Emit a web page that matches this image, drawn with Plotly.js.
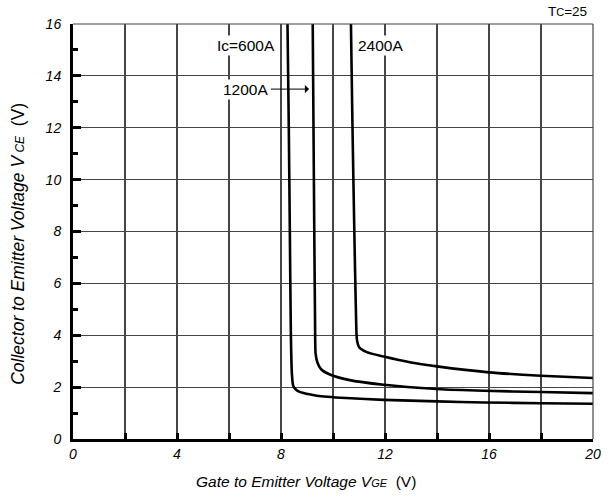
<!DOCTYPE html>
<html>
<head>
<meta charset="utf-8">
<script src="https://cdn.plot.ly/plotly-3.0.1.min.js"></script>
<style>body{margin:0;padding:0;background:#fff}#chart{width:612px;height:500px}</style>
</head>
<body>
<div id="chart"></div>
<script>
// Series: Collector-emitter voltage vs gate-emitter voltage, Tc=25
const vge600 = [8.25, 8.30, 8.34, 8.38, 8.42, 8.47, 8.60, 8.87, 9.38, 10.5, 11.95, 14.0, 15.8, 18.0, 20];
const vce600 = [16, 12, 8, 4, 2.5, 2.05, 1.88, 1.77, 1.67, 1.58, 1.51, 1.45, 1.41, 1.38, 1.36];
const vge1200 = [9.22, 9.25, 9.28, 9.31, 9.33, 9.40, 9.55, 9.90, 10.6, 11.95, 14.0, 15.8, 18.0, 20];
const vce1200 = [16, 12, 8, 4.5, 3.3, 2.95, 2.68, 2.48, 2.28, 2.09, 1.93, 1.86, 1.81, 1.77];
const vge2400 = [10.69, 10.75, 10.82, 10.88, 10.92, 11.0, 11.3, 11.95, 13.0, 14.0, 16.0, 18.0, 20];
const vce2400 = [16, 12, 8, 5, 3.83, 3.55, 3.35, 3.18, 2.95, 2.80, 2.57, 2.44, 2.35];

const xTickVals = [0, 2, 4, 6, 8, 10, 12, 14, 16, 18, 20];
const xTickText = ['0', '', '4', '', '8', '', '12', '', '16', '', '20'];
const yTickVals = [0, 2, 4, 6, 8, 10, 12, 14, 16];
const yTickText = ['0', '2', '4', '6', '8', '10', '12', '14', '16'];

const font = 'Liberation Sans, Arial, sans-serif';
const lineStyle = {color: '#000', width: 2.6, shape: 'spline', smoothing: 0.6};
const gridColor = '#454545';

const traces = [
  {x: vge600, y: vce600, mode: 'lines', line: lineStyle, name: 'Ic=600A', hoverinfo: 'skip'},
  {x: vge1200, y: vce1200, mode: 'lines', line: lineStyle, name: '1200A', hoverinfo: 'skip'},
  {x: vge2400, y: vce2400, mode: 'lines', line: lineStyle, name: '2400A', hoverinfo: 'skip'}
];

const layout = {
  width: 612, height: 500,
  margin: {l: 73, r: 19, t: 24, b: 61},
  paper_bgcolor: '#fff', plot_bgcolor: '#fff',
  showlegend: false,
  font: {family: font, color: '#000', size: 14},
  xaxis: {
    range: [0, 20], tickvals: xTickVals, ticktext: xTickText,
    showgrid: true, gridcolor: gridColor, gridwidth: 1.2,
    showline: true, linecolor: '#000', linewidth: 3,
    ticks: 'inside', ticklen: 6, tickwidth: 3, tickcolor: '#000',
    tickfont: {family: font, size: 14, style: 'italic'},
    zeroline: false, fixedrange: true
  },
  yaxis: {
    range: [0, 16], tickvals: yTickVals, ticktext: yTickText,
    showgrid: true, gridcolor: gridColor, gridwidth: 1.2,
    showline: true, linecolor: '#000', linewidth: 3,
    ticks: 'inside', ticklen: 8, tickwidth: 3, tickcolor: '#000',
    minor: {dtick: 1, ticks: 'inside', ticklen: 5, tickwidth: 3, tickcolor: '#000', showgrid: false},
    tickfont: {family: font, size: 14, style: 'italic'},
    ticklabelstandoff: 6,
    zeroline: false, fixedrange: true
  },
  shapes: [
    {type: 'line', xref: 'paper', yref: 'paper', x0: 0, x1: 1, y0: 1, y1: 1, line: {color: gridColor, width: 1.2}},
    {type: 'line', xref: 'paper', yref: 'paper', x0: 1, x1: 1, y0: 0, y1: 1, line: {color: gridColor, width: 1.2}}
  ],
  annotations: [
    {x: 6.67, y: 15.19, xref: 'x', yref: 'y', text: 'Ic=600A', showarrow: false, font: {family: font, size: 15.5}, bgcolor: '#fff'},
    {x: 11.84, y: 15.19, xref: 'x', yref: 'y', text: '2400A', showarrow: false, font: {family: font, size: 15.5}, bgcolor: '#fff'},
    {x: 9.08, y: 13.49, xref: 'x', yref: 'y', ax: 7.55, ay: 13.49, axref: 'x', ayref: 'y',
     text: '', showarrow: true, arrowhead: 1, arrowsize: 1.4, arrowwidth: 1, arrowcolor: '#000'},
    {x: 6.65, y: 13.49, xref: 'x', yref: 'y', text: '1200A', showarrow: false, font: {family: font, size: 15.5}, bgcolor: '#fff'},
    {x: 1, y: 1, xref: 'paper', yref: 'paper', xanchor: 'right', yanchor: 'bottom', yshift: 3, xshift: -4,
     text: 'T<span style="font-size:11px">C</span>=25', showarrow: false, font: {family: font, size: 13.5}},
    {x: 0.448, y: -0.1036, xref: 'paper', yref: 'paper', xanchor: 'center', yanchor: 'middle', showarrow: false,
     text: '<i>Gate to Emitter Voltage V<span style="font-size:11px">GE</span></i>  (V)', font: {family: font, size: 15.5}},
    {x: -0.106, y: 0.47, xref: 'paper', yref: 'paper', xanchor: 'center', yanchor: 'middle', showarrow: false, textangle: -90,
     text: '<i>Collector to Emitter Voltage V<span style="font-size:12px"> CE</span></i>  (V)', font: {family: font, size: 17.5}}
  ]
};

Plotly.newPlot('chart', traces, layout, {displayModeBar: false, staticPlot: true});
</script>
</body>
</html>
